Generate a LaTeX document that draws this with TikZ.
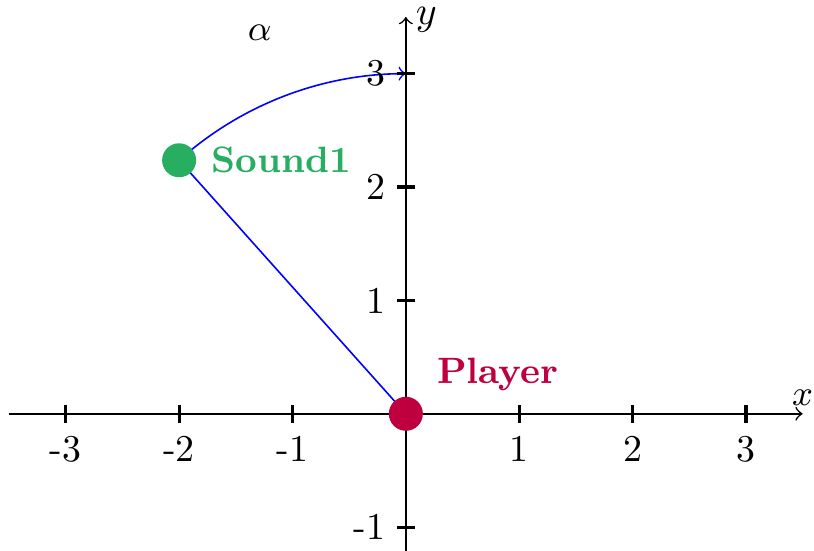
\documentclass[tikz,border=0pt]{standalone}
\usetikzlibrary{calc}
\definecolor{sndgreen}{RGB}{39,174,96}
\definecolor{plred}{RGB}{190,0,62}
\begin{document}
\begin{tikzpicture}[
  axis/.style={->,line width=0.4pt},
  tickmark/.style={line width=0.8pt},
  ticklbl/.style={font=\fontsize{9.5}{11}\selectfont,inner sep=1pt},
  dot/.style={circle,inner sep=0pt,minimum size=0.3cm},
  lbl/.style={font=\fontsize{9.2}{11}\selectfont\bfseries,inner sep=0pt,anchor=west}
]
\useasboundingbox (-3.58,-1.21) rectangle (3.6,3.65);
% points
\coordinate (O) at (0,0);
\coordinate (T) at (0,3);
\coordinate (S) at (-2,2.2361);
\draw[blue,line width=0.6pt] (O) -- (T);
\draw[blue,line width=0.4pt] (O) -- (S);
\draw[blue,line width=0.4pt,->] (S) arc[start angle=131.81,end angle=90,radius=3];
% axes
\coordinate (xs) at (-3.5,0);
\coordinate (xe) at (3.5,0);
\coordinate (ys) at (0,-1.25);
\coordinate (ye) at (0,3.5);
\draw[axis] (xs) -- (xe) node[anchor=south,inner sep=2pt,font=\fontsize{9.5}{11}\selectfont] (xl) {$x$};
\draw[axis] (ys) -- (ye);
\node[anchor=west,inner sep=0.3pt,font=\fontsize{10}{11}\selectfont,xshift=2pt,yshift=-0.8pt] (yl) at (ye) {$y$};
% ticks
\foreach \x in {-3,-2,-1,1,2,3} {
  \draw[tickmark] (\x,-0.08) -- (\x,0.08);
  \node[ticklbl,anchor=north] (tx\x) at (\x,-0.16) {\x};
}
\foreach \y in {-1,1,2,3} {
  \draw[tickmark] (-0.08,\y) -- (0.08,\y);
  \node[ticklbl,anchor=east] (ty\y) at (-0.14,\y) {\y};
}
\node[dot,fill=sndgreen] (snd) at (S) {};
\node[dot,fill=plred] (pl) at (O) {};
\node[lbl,text=sndgreen] (sndl) at (-1.72,2.236) {Sound1};
\node[lbl,text=plred] (pll) at (0.27,0.35) {Player};
\node[font=\fontsize{9.5}{11}\selectfont] (alpha) at (-1.29,3.36) {$\alpha$};
\end{tikzpicture}
\end{document}
